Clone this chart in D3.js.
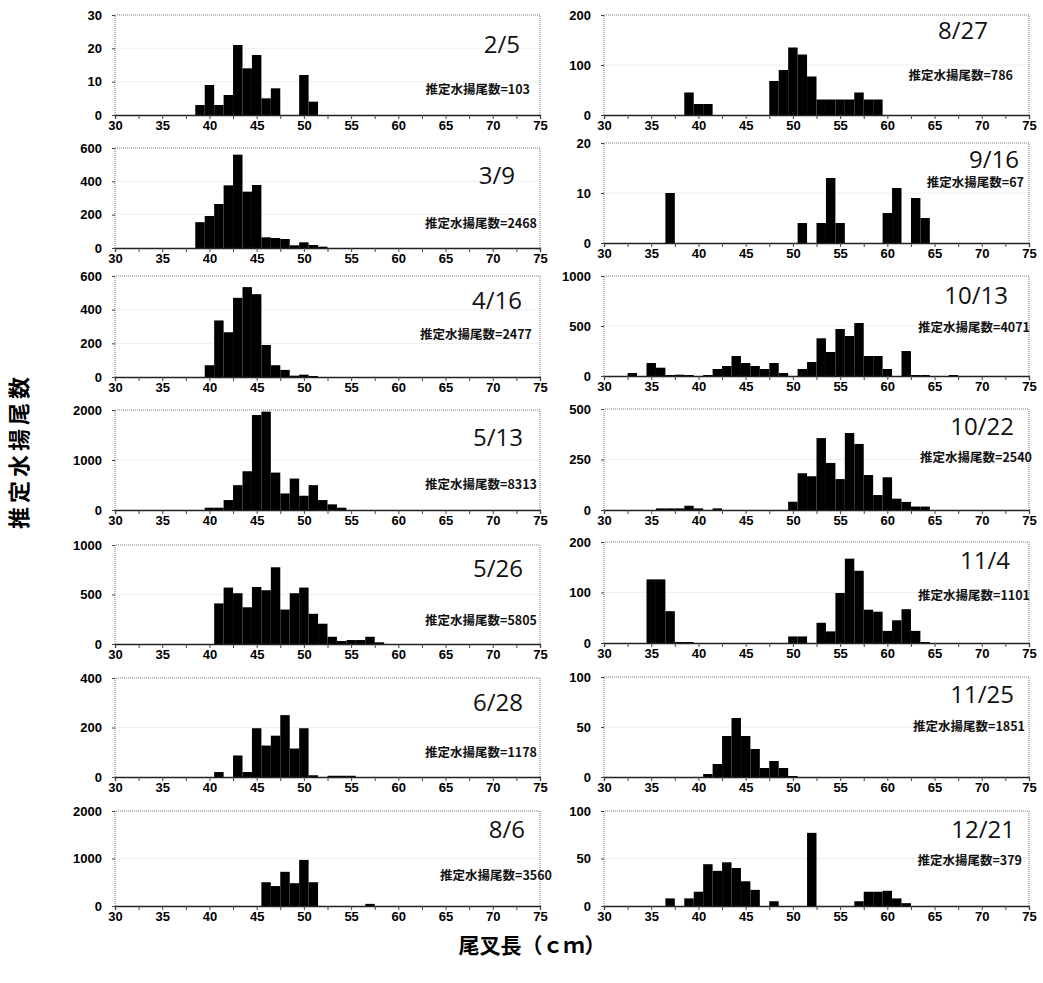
<!doctype html>
<html lang="ja">
<head>
<meta charset="UTF-8">
<title>尾叉長組成</title>
<script src="https://cdn.jsdelivr.net/npm/d3@7"></script>
<style>
  body { margin: 0; background: #fff; }
  svg text { font-family: "Liberation Sans", Arial, sans-serif; }
</style>
</head>
<body>
<svg id="chart" width="1043" height="983"></svg>
<script>
// panel order: left column top->bottom, then right column top->bottom
const dates = ["2/5", "3/9", "4/16", "5/13", "5/26", "6/28", "8/6",
               "8/27", "9/16", "10/13", "10/22", "11/4", "11/25", "12/21"];
const totals = [103, 2468, 2477, 8313, 5805, 1178, 3560,
                786, 67, 4071, 2540, 1101, 1851, 379];
const yMax = [30, 600, 600, 2000, 1000, 400, 2000,
              200, 20, 1000, 500, 200, 100, 100];
const yStep = [10, 200, 200, 1000, 500, 200, 1000,
               100, 10, 500, 250, 100, 50, 50];

// [fork length cm, fish] per sampling date
const feb05 = [[39,3],[40,9],[41,3],[42,6],[43,21],[44,14],[45,18],[46,5],[47,8],[50,12],[51,4]];
const mar09 = [[39,155],[40,192],[41,264],[42,376],[43,560],[44,338],[45,378],[46,64],[47,60],[48,54],[49,16],[50,34],[51,18],[52,8]];
const apr16 = [[40,70],[41,336],[42,266],[43,470],[44,534],[45,492],[46,190],[47,70],[48,42],[49,8],[50,14],[51,6]];
const may13 = [[40,46],[41,46],[42,199],[43,497],[44,775],[45,1900],[46,1967],[47,748],[48,331],[49,629],[50,285],[51,497],[52,199],[53,113],[54,46]];
const may26 = [[41,410],[42,570],[43,513],[44,371],[45,576],[46,543],[47,775],[48,348],[49,513],[50,570],[51,305],[52,205],[53,73],[54,30],[55,40],[56,40],[57,73],[58,17]];
const jun28 = [[41,20],[43,87],[44,20],[45,197],[46,127],[47,167],[48,250],[49,115],[50,197],[51,7],[53,5],[54,5],[55,5]];
const aug06 = [[46,500],[47,420],[48,720],[49,480],[50,970],[51,500],[57,45]];
const aug27 = [[39,45],[40,22],[41,22],[48,68],[49,90],[50,135],[51,121],[52,77],[53,31],[54,31],[55,31],[56,31],[57,45],[58,31],[59,31]];
const sep16 = [[37,10],[51,4],[53,4],[54,13],[55,4],[60,6],[61,11],[63,9],[64,5]];
const oct13 = [[33,30],[35,130],[36,83],[37,10],[38,13],[39,10],[41,10],[42,70],[43,100],[44,200],[45,130],[46,100],[47,70],[48,130],[49,30],
               [51,70],[52,140],[53,377],[54,240],[55,470],[56,400],[57,530],[58,200],[59,200],[60,70],[62,250],[63,10],[64,10],[67,10]];
const oct22 = [[36,8],[37,8],[38,8],[39,21],[40,8],[42,8],[50,41],[51,182],[52,167],[53,356],[54,233],[55,153],[56,381],[57,327],[58,173],[59,74],[60,162],[61,56],[62,40],[63,17],[64,17]];
const nov04 = [[35,126],[36,126],[37,63],[38,2],[39,2],[50,13],[51,13],[53,40],[54,23],[55,99],[56,167],[57,143],[58,66],[59,62],[60,24],[61,45],[62,67],[63,24],[64,2]];
const nov25 = [[41,3],[42,13],[43,41],[44,59],[45,41],[46,28],[47,9],[48,16],[49,9],[50,1]];
const dec21 = [[37,8],[39,8],[40,15],[41,44],[42,37],[43,46],[44,40],[45,26],[46,17],[48,5],[52,77],[57,5],[58,15],[59,15],[60,16],[61,8],[62,3]];
const bins = [feb05, mar09, apr16, may13, may26, jun28, aug06,
              aug27, sep16, oct13, oct22, nov04, nov25, dec21];

const xMinor = d3.range(30, 75.1, 2.5);

// layout
const colX = [[115, 540], [604, 1029]];
const rowTop = [[15, 148, 276, 410, 545, 678, 811], [15, 143, 276, 409, 542, 677, 811]];
const rowBot = [[115, 248, 377, 510, 644, 777, 906], [115, 243, 376, 510, 643, 777, 906]];
// [date right offset, date baseline, count right offset, count baseline] relative to plot
const labelPos = [
  [-20, 38, -10, 79], [-25, 36, -3, 80], [-18, 33, -8, 63], [-17, 36, -3, 79],
  [-17, 32, -3, 80], [-17, 33, -3, 79], [-15, 27, 12, 69],
  [-41, 24, -16, 65], [-10, 25, -5, 44], [-21, 28, 1, 56], [-15, 26, 3, 53],
  [-19, 27, 1, 58], [-15, 26, -4, 54], [-14, 27, -7, 54]
];

const svg = d3.select("#chart");

bins.forEach((data, i) => {
  const col = i < 7 ? 0 : 1, row = i % 7;
  const [x0, x1] = colX[col];
  const top = rowTop[col][row], bot = rowBot[col][row];
  const x = d3.scaleLinear().domain([30, 75]).range([x0, x1]);
  const y = d3.scaleLinear().domain([0, yMax[i]]).range([bot, top]);
  const yTicks = d3.range(0, yMax[i] + 1, yStep[i]);
  const g = svg.append("g");

  // faint gridlines
  g.selectAll("line.grid").data(yTicks.slice(1, -1)).join("line")
    .attr("class", "grid")
    .attr("x1", x0).attr("x2", x1)
    .attr("y1", d => y(d)).attr("y2", d => y(d))
    .attr("stroke", "#eeeeee").attr("stroke-width", 1);

  // dotted frame (left, top, right)
  g.append("path")
    .attr("d", `M${x0},${bot}V${top}H${x1}V${bot}`)
    .attr("fill", "none").attr("stroke", "#777")
    .attr("stroke-width", 1).attr("stroke-dasharray", "1,1");

  g.selectAll("rect.bar").data(data).join("rect")
    .attr("class", "bar")
    .attr("x", d => x(d[0] - 0.5))
    .attr("width", d => x(d[0] + 0.5) - x(d[0] - 0.5))
    .attr("y", d => y(d[1]))
    .attr("height", d => bot - y(d[1]))
    .attr("fill", "#000");

  // x axis
  const xa = g.append("g").attr("transform", `translate(0,${bot})`)
    .call(d3.axisBottom(x).tickValues(xMinor).tickSize(4)
      .tickFormat(d => d % 5 === 0 ? d : ""));
  xa.select(".domain").attr("stroke", "#222").attr("stroke-width", 1.3);
  xa.selectAll(".tick line").attr("stroke", "#444");
  xa.selectAll("text").attr("font-size", 13).attr("font-weight", "bold")
    .attr("fill", "#000").attr("dy", "0.6em");

  // y axis
  const ya = g.append("g").attr("transform", `translate(${x0},0)`)
    .call(d3.axisLeft(y).tickValues(yTicks).tickFormat(d3.format("d"))
      .tickSize(3).tickPadding(10));
  ya.select(".domain").remove();
  ya.selectAll(".tick line").attr("stroke", "#444");
  ya.selectAll("text").attr("font-size", 13).attr("font-weight", "bold").attr("fill", "#000");

  const lp = labelPos[i];
  g.append("text")
    .attr("x", x1 + lp[0]).attr("y", top + lp[1])
    .attr("text-anchor", "end")
    .style("font-family", "'Open Sans', 'Noto Sans', sans-serif")
    .attr("font-size", 24).attr("fill", "#111")
    .text(dates[i]);
  g.append("text")
    .attr("x", x1 + lp[2]).attr("y", top + lp[3])
    .attr("text-anchor", "end")
    .style("font-family", "'Noto Sans CJK JP', sans-serif")
    .attr("font-size", 12.5).attr("font-weight", "bold").attr("fill", "#111")
    .text("推定水揚尾数=" + totals[i]);
});

svg.append("text")
  .attr("transform", "translate(27,451) rotate(-90)")
  .attr("text-anchor", "middle")
  .style("font-family", "'Noto Sans CJK JP', sans-serif")
  .attr("font-size", 22).attr("font-weight", "bold")
  .attr("letter-spacing", 4)
  .text("推定水揚尾数");

svg.append("text")
  .attr("x", 532).attr("y", 953)
  .attr("text-anchor", "middle")
  .style("font-family", "'Noto Sans CJK JP', sans-serif")
  .attr("font-size", 21).attr("font-weight", "bold")
  .text("尾叉長（ｃｍ）");
</script>
</body>
</html>
